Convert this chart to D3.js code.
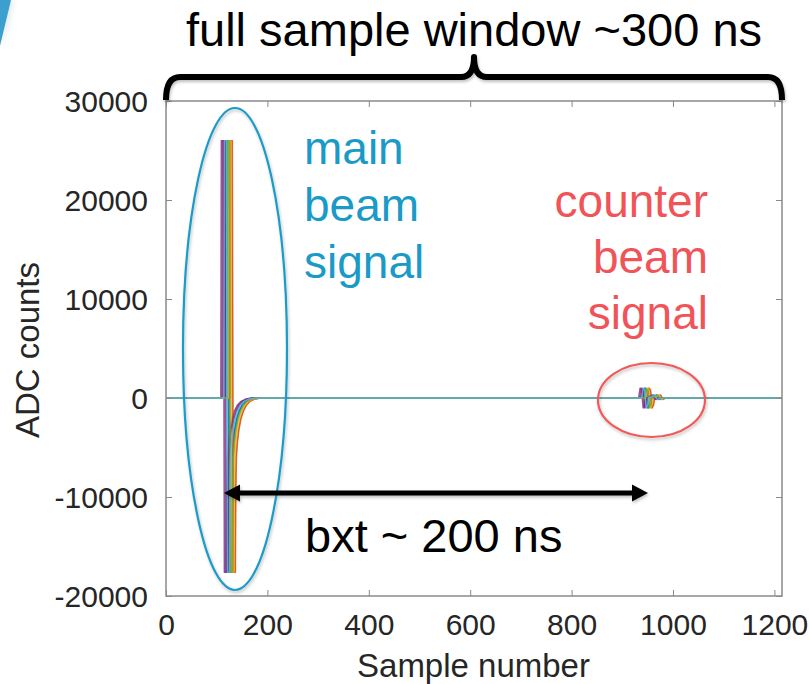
<!DOCTYPE html>
<html>
<head>
<meta charset="utf-8">
<script src="https://cdn.jsdelivr.net/npm/d3@7"></script>
<style>
  html, body { margin: 0; padding: 0; background: #fff; }
  svg { display: block; font-family: "Liberation Sans", Arial, Helvetica, sans-serif; }
</style>
</head>
<body>
<svg id="chart" width="809" height="684"></svg>
<script>
// ---- data -------------------------------------------------------------
const xTicks = [0, 200, 400, 600, 800, 1000, 1200];
const yTicks = [-20000, -10000, 0, 10000, 20000, 30000];
const xDomain = [0, 1215];
const yDomain = [-20000, 30000];

// Main-beam pulse shape: sample offset from pulse start, ADC counts
const mainPulseOffset = [0, 1, 5, 7, 11, 12, 13, 15, 18, 22, 27, 33, 40, 48, 60];
const mainPulseValue  = [0, 26000, 26000, -17600, -17600, -9000, -6000, -4500, -3200, -2100, -1300, -700, -330, -130, 0];

// Counter-beam pulse shape
const counterPulseOffset = [0, 3, 6, 9, 12, 14, 26, 31, 36];
const counterPulseValue  = [0, 1000, 800, -1000, -700, 0, 300, -150, 0];

// Pulse start sample of every recorded waveform
const mainStart    = [117, 125, 121, 108, 119, 115, 112, 118, 126, 123, 110, 120, 114];
const counterStart = [941, 949, 945, 932, 943, 939, 936, 942, 950, 947, 934, 944, 938];

const traceColors = ["#0072BD", "#D95319", "#EDB120", "#7E2F8E", "#77AC30", "#4DBEEE", "#A2142F"];

// ---- layout -----------------------------------------------------------
const svg = d3.select("#chart");
const plot = { left: 166, right: 782, top: 101, bottom: 596 };

const x = d3.scaleLinear().domain(xDomain).range([plot.left, plot.right]);
const y = d3.scaleLinear().domain(yDomain).range([plot.bottom, plot.top]);

const defs = svg.append("defs");
defs.append("clipPath").attr("id", "plotClip")
  .append("rect")
  .attr("x", plot.left).attr("y", plot.top)
  .attr("width", plot.right - plot.left).attr("height", plot.bottom - plot.top);

const shadow = defs.append("filter").attr("id", "shadow")
  .attr("x", "-20%").attr("y", "-20%").attr("width", "140%").attr("height", "140%");
shadow.append("feDropShadow")
  .attr("dx", 1).attr("dy", 2).attr("stdDeviation", 1.5)
  .attr("flood-color", "#000").attr("flood-opacity", 0.25);

const glow = defs.append("filter").attr("id", "glow")
  .attr("x", "-50%").attr("y", "-50%").attr("width", "200%").attr("height", "200%");
glow.append("feDropShadow")
  .attr("dx", 2).attr("dy", 0).attr("stdDeviation", 3)
  .attr("flood-color", "#7ab").attr("flood-opacity", 0.3);

// slide decoration in the corner
svg.append("path")
  .attr("d", "M0,0 L11,0 L0,46 Z")
  .attr("fill", "#3a9fd0")
  .attr("filter", "url(#glow)");

// ---- waveforms --------------------------------------------------------
const traces = mainStart.map((s, i) => {
  const pts = [[xDomain[0], 0]];
  mainPulseOffset.forEach((o, k) => pts.push([s + o, mainPulseValue[k]]));
  counterPulseOffset.forEach((o, k) => pts.push([counterStart[i] + o, counterPulseValue[k]]));
  pts.push([xDomain[1], 0]);
  return pts;
});

const line = d3.line().x(d => x(d[0])).y(d => y(d[1]));

svg.append("g").attr("clip-path", "url(#plotClip)")
  .selectAll("path")
  .data(traces)
  .join("path")
  .attr("d", line)
  .attr("fill", "none")
  .attr("stroke", (d, i) => traceColors[i % traceColors.length])
  .attr("stroke-width", 1.4)
  .attr("stroke-opacity", 0.8)
  .attr("stroke-linejoin", "round");

// ---- axes (box with inward ticks) -------------------------------------
const axisColor = "#8a8a8a";
const tickColor = "#262626";
const tickLen = 6;
const plainNumber = d => String(d);

function styleAxis(g) {
  g.select(".domain").remove();
  g.selectAll(".tick line").attr("stroke", axisColor).attr("stroke-width", 1);
  g.selectAll(".tick text")
    .attr("fill", tickColor)
    .style("font-size", "30px")
    .style("font-family", "'Liberation Sans', Arial, sans-serif");
}

svg.append("g")
  .attr("transform", `translate(0,${plot.bottom})`)
  .call(d3.axisBottom(x).tickValues(xTicks).tickSize(-tickLen).tickFormat(plainNumber))
  .call(styleAxis)
  .call(g => g.selectAll(".tick text").attr("y", 39).attr("dy", 0));

svg.append("g")
  .attr("transform", `translate(0,${plot.top})`)
  .call(d3.axisTop(x).tickValues(xTicks).tickSize(-tickLen).tickFormat(""))
  .call(styleAxis);

svg.append("g")
  .attr("transform", `translate(${plot.left},0)`)
  .call(d3.axisLeft(y).tickValues(yTicks).tickSize(-tickLen).tickFormat(plainNumber))
  .call(styleAxis)
  .call(g => g.selectAll(".tick text").attr("x", -18).attr("dy", "0.35em"));

svg.append("g")
  .attr("transform", `translate(${plot.right},0)`)
  .call(d3.axisRight(y).tickValues(yTicks).tickSize(-tickLen).tickFormat(""))
  .call(styleAxis);

svg.append("rect")
  .attr("x", plot.left).attr("y", plot.top)
  .attr("width", plot.right - plot.left).attr("height", plot.bottom - plot.top)
  .attr("fill", "none").attr("stroke", axisColor).attr("stroke-width", 1.5);

// axis titles
svg.append("text")
  .attr("x", (plot.left + plot.right) / 2 - 0.5).attr("y", 677)
  .attr("text-anchor", "middle")
  .attr("fill", tickColor).style("font-size", "33px")
  .text("Sample number");

svg.append("text")
  .attr("transform", "translate(39,350) rotate(-90)")
  .attr("text-anchor", "middle")
  .attr("fill", tickColor).style("font-size", "33px")
  .text("ADC counts");

// ---- annotations ------------------------------------------------------
const ann = svg.append("g").attr("filter", "url(#shadow)");

// brace over the full window
const braceY = 77, braceMid = (plot.left + plot.right) / 2;
ann.append("path")
  .attr("d", `M${plot.left},100 Q${plot.left},${braceY} ${plot.left + 14},${braceY}
              L${braceMid - 13},${braceY} Q${braceMid},${braceY} ${braceMid},57
              Q${braceMid},${braceY} ${braceMid + 13},${braceY}
              L${plot.right - 14},${braceY} Q${plot.right},${braceY} ${plot.right},100`)
  .attr("fill", "none").attr("stroke", "#000").attr("stroke-width", 6)
  .attr("stroke-linejoin", "round");

// ellipses around the two signals
ann.append("ellipse")
  .attr("cx", 235).attr("cy", 349).attr("rx", 52).attr("ry", 241)
  .attr("fill", "none").attr("stroke", "#1d9bc8").attr("stroke-width", 2.2);

ann.append("ellipse")
  .attr("cx", 651.5).attr("cy", 400).attr("rx", 53.5).attr("ry", 37)
  .attr("fill", "none").attr("stroke", "#f05a5a").attr("stroke-width", 2.2);

// double arrow: bunch crossing time
const arrowY = 493, aL = 224, aR = 648, head = 16, half = 8.5;
ann.append("line")
  .attr("x1", aL + head - 2).attr("x2", aR - head + 2)
  .attr("y1", arrowY).attr("y2", arrowY)
  .attr("stroke", "#000").attr("stroke-width", 5);
ann.append("path")
  .attr("d", `M${aL},${arrowY} L${aL + head},${arrowY - half} L${aL + head},${arrowY + half} Z
              M${aR},${arrowY} L${aR - head},${arrowY - half} L${aR - head},${arrowY + half} Z`)
  .attr("fill", "#000");

// texts
svg.append("text")
  .attr("x", braceMid).attr("y", 46)
  .attr("text-anchor", "middle").attr("fill", "#000")
  .style("font-size", "47px")
  .text("full sample window ~300 ns");

const mainLines = ["main", "beam", "signal"];
svg.append("g").selectAll("text").data(mainLines).join("text")
  .attr("x", 304).attr("y", (d, i) => 164 + i * 57)
  .attr("fill", "#1a9ac6").style("font-size", "46px")
  .text(d => d);

const counterLines = ["counter", "beam", "signal"];
svg.append("g").selectAll("text").data(counterLines).join("text")
  .attr("x", 708).attr("y", (d, i) => 217 + i * 56)
  .attr("text-anchor", "end")
  .attr("fill", "#f05458").style("font-size", "46px")
  .text(d => d);

svg.append("text")
  .attr("x", 305).attr("y", 552)
  .attr("fill", "#000").style("font-size", "47px")
  .text("bxt ~ 200 ns");
</script>
</body>
</html>
